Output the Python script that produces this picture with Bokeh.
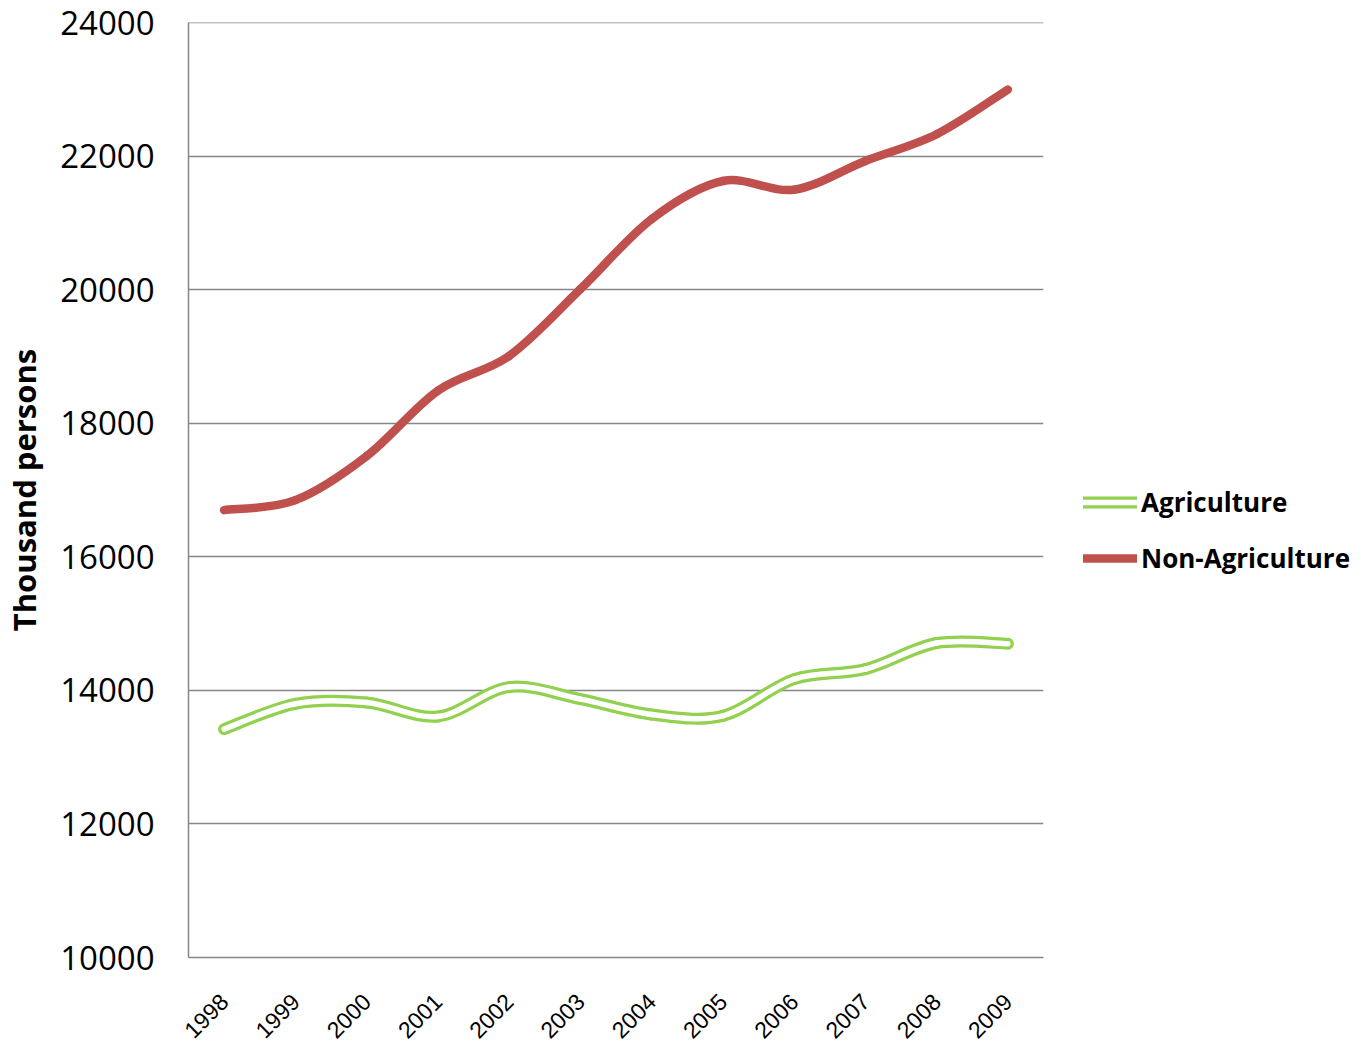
import numpy as np
from bokeh.plotting import figure
from bokeh.models import Range1d, FixedTicker, Legend, LegendItem
from bokeh.embed import file_html
from bokeh.resources import INLINE
from math import pi

years = ["1998", "1999", "2000", "2001", "2002", "2003", "2004", "2005", "2006", "2007", "2008", "2009"]
agriculture = [13420, 13800, 13820, 13610, 14050, 13870, 13640, 13620, 14170, 14320, 14710, 14700]
non_agriculture = [16700, 16850, 17510, 18490, 19010, 20010, 21060, 21630, 21500, 21930, 22330, 23000]
y_ticks = [10000, 12000, 14000, 16000, 18000, 20000, 22000, 24000]

GREEN = "#92D050"
RED = "#C0504D"
GRID = "#868686"


def smooth_segments(ys):
    """Catmull-Rom style control points (like Excel's smoothed line)."""
    xs = list(range(len(ys)))
    n = len(ys)
    px = [xs[0]] + xs + [xs[-1]]
    py = [ys[0]] + list(ys) + [ys[-1]]
    d = dict(x0=[], y0=[], x1=[], y1=[], cx0=[], cy0=[], cx1=[], cy1=[])
    for i in range(n - 1):
        j = i + 1
        d["x0"].append(px[j]); d["y0"].append(py[j])
        d["x1"].append(px[j + 1]); d["y1"].append(py[j + 1])
        d["cx0"].append(px[j] + (px[j + 1] - px[j - 1]) / 6)
        d["cy0"].append(py[j] + (py[j + 1] - py[j - 1]) / 6)
        d["cx1"].append(px[j + 1] - (px[j + 2] - px[j]) / 6)
        d["cy1"].append(py[j + 1] - (py[j + 2] - py[j]) / 6)
    return d


p = figure(frame_width=855, frame_height=935, output_backend="svg", toolbar_location=None,
           x_range=Range1d(-0.5, len(years) - 0.5), y_range=Range1d(10000, 24004),
           min_border_left=178, min_border_top=22, min_border_right=311,
           min_border_bottom=86)
p.outline_line_color = None
p.background_fill_color = "white"
p.border_fill_color = "white"

# grid
p.xgrid.visible = False
p.ygrid.ticker = FixedTicker(ticks=y_ticks)
p.ygrid.grid_line_color = GRID
p.ygrid.grid_line_width = 1.5

# axes
p.yaxis.ticker = FixedTicker(ticks=y_ticks)
p.yaxis.axis_line_color = GRID
p.yaxis.axis_line_width = 1.5
p.yaxis.major_tick_line_color = None
p.yaxis.minor_tick_line_color = None
p.yaxis.major_label_standoff = 28
p.yaxis.major_label_text_font = "Open Sans"
p.yaxis.major_label_text_font_size = "33px"
p.yaxis.major_label_text_color = "black"
p.yaxis.axis_label = "Thousand persons"
p.yaxis.axis_label_text_font = "Open Sans"
p.yaxis.axis_label_text_font_style = "bold"
p.yaxis.axis_label_text_font_size = "31px"
p.yaxis.axis_label_text_color = "black"
p.yaxis.axis_label_standoff = 12

p.xaxis.ticker = FixedTicker(ticks=list(range(len(years))))
p.xaxis.major_label_overrides = {i: y for i, y in enumerate(years)}
p.xaxis.axis_line_color = GRID
p.xaxis.axis_line_width = 1.5
p.xaxis.major_tick_line_color = None
p.xaxis.minor_tick_line_color = None
p.xaxis.major_label_orientation = pi / 4
p.xaxis.major_label_standoff = 34
p.xaxis.major_label_text_font = "Liberation Sans"
p.xaxis.major_label_text_font_size = "23px"
p.xaxis.major_label_text_color = "black"

# lines
nag = smooth_segments(non_agriculture)
r_red = p.bezier(source=nag, x0="x0", y0="y0", x1="x1", y1="y1", cx0="cx0", cy0="cy0",
                 cx1="cx1", cy1="cy1", line_color=RED, line_width=8.5, line_cap="round")

ag = smooth_segments(agriculture)
r_green = p.bezier(source=ag, x0="x0", y0="y0", x1="x1", y1="y1", cx0="cx0", cy0="cy0",
                   cx1="cx1", cy1="cy1", line_color=GREEN, line_width=12, line_cap="round")
r_white = p.bezier(source=ag, x0="x0", y0="y0", x1="x1", y1="y1", cx0="cx0", cy0="cy0",
                   cx1="cx1", cy1="cy1", line_color="white", line_width=5.5, line_cap="round")

legend = Legend(items=[LegendItem(label="Agriculture", renderers=[r_green, r_white]),
                       LegendItem(label="Non-Agriculture", renderers=[r_red])],
                location=(40, 381), orientation="vertical",
                glyph_width=54, glyph_height=30, label_height=30, spacing=20,
                label_standoff=4, padding=0, margin=0,
                border_line_color=None, background_fill_alpha=0,
                label_text_font="Open Sans", label_text_font_style="bold",
                label_text_font_size="26px", label_text_color="black")
p.add_layout(legend, "right")

open("out.html", "w").write(file_html(p, INLINE))
